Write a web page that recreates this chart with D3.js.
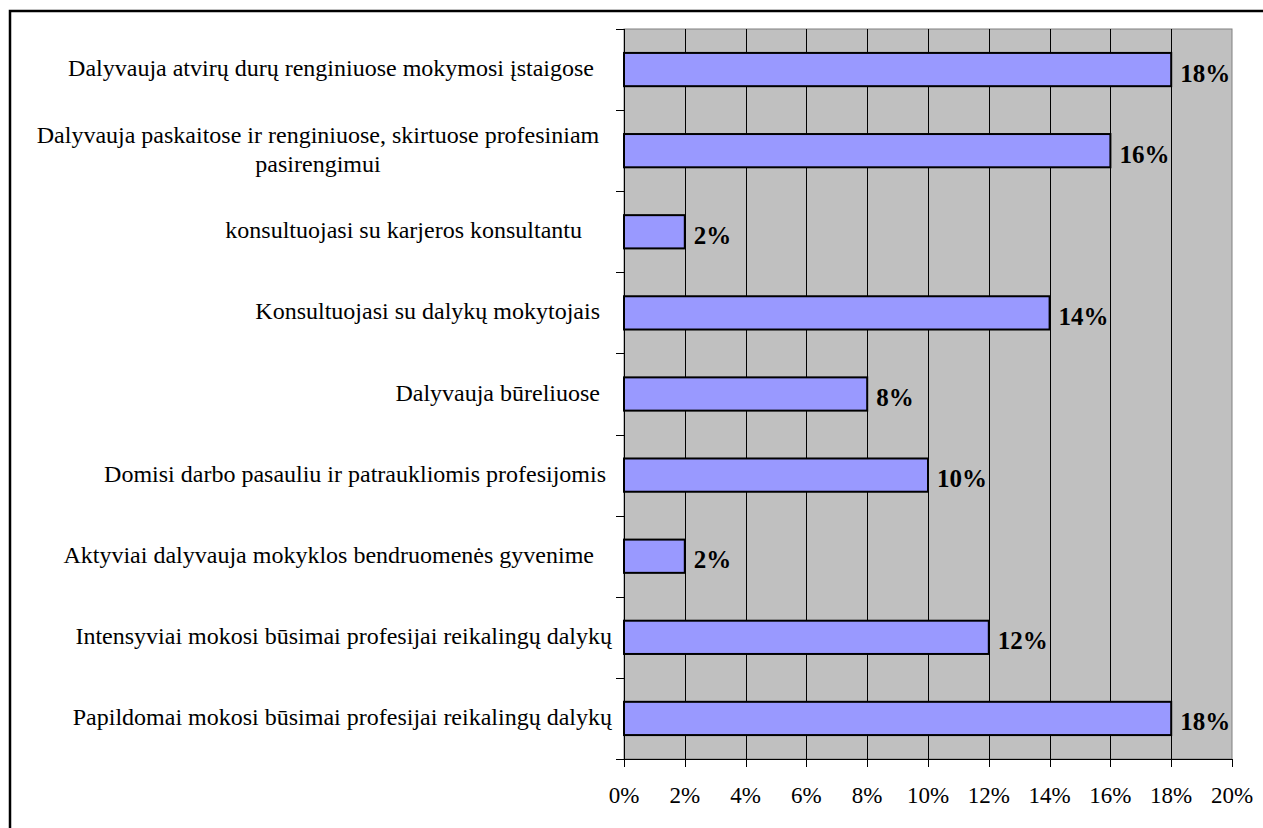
<!DOCTYPE html>
<html>
<head>
<meta charset="utf-8">
<script src="https://cdn.jsdelivr.net/npm/d3@7"></script>
<style>
  body { margin: 0; background: #fff; }
</style>
</head>
<body>
<div id="chart"></div>
<script>
const categories = [
  ["Dalyvauja atvirų durų renginiuose mokymosi įstaigose   "],
  ["Dalyvauja paskaitose ir renginiuose, skirtuose profesiniam", "pasirengimui"],
  ["konsultuojasi su karjeros konsultantu     "],
  ["Konsultuojasi su dalykų mokytojais  "],
  ["Dalyvauja būreliuose  "],
  ["Domisi darbo pasauliu ir patraukliomis profesijomis "],
  ["Aktyviai dalyvauja mokyklos bendruomenės gyvenime   "],
  ["Intensyviai mokosi būsimai profesijai reikalingų dalykų"],
  ["Papildomai mokosi būsimai profesijai reikalingų dalykų"]
];
const values = [18, 16, 2, 14, 8, 10, 2, 12, 18];
const xTicks = [0, 2, 4, 6, 8, 10, 12, 14, 16, 18, 20];

const W = 1263, H = 828;
const pLeft = 624, pRight = 1232, pTop = 29, pBottom = 759;
const FONT = "'Liberation Serif', 'DejaVu Serif', serif";

const svg = d3.select("#chart").append("svg")
  .attr("width", W)
  .attr("height", H)
  .attr("font-family", FONT);

// outer frame
svg.append("rect")
  .attr("x", 10).attr("y", 11)
  .attr("width", W + 20).attr("height", H + 20)
  .attr("fill", "none")
  .attr("stroke", "black")
  .attr("stroke-width", 2.5);

const x = d3.scaleLinear().domain([0, 20]).range([pLeft, pRight]);
const y = d3.scaleBand().domain(d3.range(categories.length)).range([pTop, pBottom]);
const barH = y.bandwidth() * 0.41;

// plot area
svg.append("rect")
  .attr("x", pLeft).attr("y", pTop)
  .attr("width", pRight - pLeft).attr("height", pBottom - pTop)
  .attr("fill", "#c0c0c0")
  .attr("stroke", "#808080")
  .attr("stroke-width", 1);

// gridlines
svg.selectAll(".grid")
  .data(xTicks.slice(1, -1))
  .enter().append("line")
  .attr("x1", d => Math.round(x(d)) + 0.5)
  .attr("x2", d => Math.round(x(d)) + 0.5)
  .attr("y1", pTop).attr("y2", pBottom)
  .attr("stroke", "black")
  .attr("stroke-width", 1);

// bars
svg.selectAll(".bar")
  .data(values)
  .enter().append("rect")
  .attr("x", x(0))
  .attr("y", (d, i) => y(i) + (y.bandwidth() - barH) / 2)
  .attr("width", d => x(d) - x(0))
  .attr("height", barH)
  .attr("fill", "#9999ff")
  .attr("stroke", "black")
  .attr("stroke-width", 2);

// value labels
svg.selectAll(".val")
  .data(values)
  .enter().append("text")
  .attr("x", d => x(d) + 9)
  .attr("y", (d, i) => y(i) + y.bandwidth() / 2 + 12)
  .attr("font-size", 25)
  .attr("font-weight", "bold")
  .text(d => d + "%");

// y axis
svg.append("line")
  .attr("x1", pLeft + 0.5).attr("x2", pLeft + 0.5)
  .attr("y1", pTop).attr("y2", pBottom)
  .attr("stroke", "black");
svg.selectAll(".ytick")
  .data(d3.range(categories.length + 1))
  .enter().append("line")
  .attr("x1", pLeft - 8).attr("x2", pLeft)
  .attr("y1", i => Math.round(pTop + i * y.step()) + 0.5)
  .attr("y2", i => Math.round(pTop + i * y.step()) + 0.5)
  .attr("stroke", "black");

// x axis
svg.append("line")
  .attr("x1", pLeft - 8).attr("x2", pRight)
  .attr("y1", pBottom + 0.5).attr("y2", pBottom + 0.5)
  .attr("stroke", "black");
svg.selectAll(".xtick")
  .data(xTicks)
  .enter().append("line")
  .attr("x1", d => Math.round(x(d)) + 0.5)
  .attr("x2", d => Math.round(x(d)) + 0.5)
  .attr("y1", pBottom).attr("y2", pBottom + 8)
  .attr("stroke", "black");
svg.selectAll(".xlab")
  .data(xTicks)
  .enter().append("text")
  .attr("x", d => x(d))
  .attr("y", 803)
  .attr("text-anchor", "middle")
  .attr("font-size", 23)
  .text(d => d + "%");

// category labels
categories.forEach((lines, i) => {
  const cy = y(i) + y.bandwidth() / 2;
  const lh = 29;
  const multi = lines.length > 1;
  const t = svg.append("text")
    .attr("text-anchor", multi ? "middle" : "end")
    .attr("font-size", 24)
    .style("white-space", "pre");
  lines.forEach((s, k) => {
    t.append("tspan")
      .attr("x", multi ? 318 : 612)
      .attr("y", cy + 6.5 + (k - (lines.length - 1) / 2) * lh)
      .text(s);
  });
});
</script>
</body>
</html>
